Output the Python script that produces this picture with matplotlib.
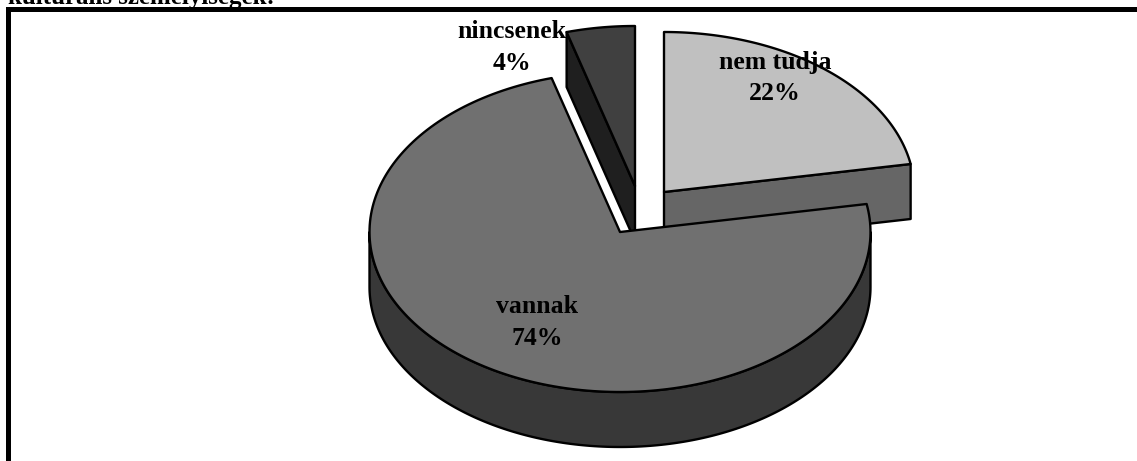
import numpy as np
import matplotlib
matplotlib.use("Agg")
import matplotlib.pyplot as plt
from matplotlib.patches import Polygon

W, H = 1137, 461
categories = ["nem tudja", "vannak", "nincsenek"]
values = [22.2, 73.4, 4.4]
labels = ["22%", "74%", "4%"]
top_colors = ["#c0c0c0", "#707070", "#404040"]
side_colors = ["#666666", "#383838", "#1f1f1f"]
apexes = [(664, 192), (620, 232), (635, 186)]
label_pos = [(775, 78), (537, 322), (512, 48)]
title = "kulturális személyiségek:"

RX, RY, DEPTH = 250.5, 160.0, 55.0

plt.rcParams["font.family"] = ["Liberation Serif", "DejaVu Serif"]
fig = plt.figure(figsize=(W / 100, H / 100), dpi=100)
ax = fig.add_axes([0, 0, 1, 1])
ax.set_xlim(0, W)
ax.set_ylim(H, 0)
ax.axis("off")

ends = np.cumsum(values) / 100 * 360
starts = np.r_[0, ends[:-1]]


def pt(apex, t):
    t = np.radians(t)
    return np.c_[apex[0] + RX * np.sin(t), apex[1] - RY * np.cos(t)]


def arc(apex, a, b):
    return pt(apex, np.linspace(a, b, 200))


def poly(xy, fc, z):
    ax.add_patch(Polygon(xy, closed=True, fc=fc, ec="black", lw=1.7, joinstyle="round", zorder=z))


def wedge(i, z):
    s, e = starts[i], ends[i]
    a = np.array(apexes[i], float)
    down = np.array([0, DEPTH])
    # cut faces turned towards the viewer
    for ang, visible in ((s, s > 180), (e, e < 180)):
        if visible:
            p = pt(a, ang)[0]
            poly([a, p, p + down, a + down], side_colors[i], z)
    # rim visible between 90 and 270 degrees
    lo, hi = max(s, 90), min(e, 270)
    if lo < hi:
        rim = arc(a, lo, hi)
        poly(np.vstack([rim, (rim + down)[::-1]]), side_colors[i], z + 0.1)
    poly(np.vstack([a, arc(a, s, e)]), top_colors[i], z + 0.2)


wedge(0, 2)
wedge(2, 3)
wedge(1, 4)

for name, pct, (x, y) in zip(categories, labels, label_pos):
    ax.text(x, y, f"{name}\n{pct}", ha="center", va="center", fontsize=18.5,
            fontweight="bold", color="black", zorder=10, linespacing=1.5)

ax.plot([7.5, 7.5, W + 5], [H + 5, 9.5, 9.5], color="black", lw=3.6,
        solid_joinstyle="miter", zorder=11)
ax.text(8, 4, title, ha="left", va="baseline", fontsize=18, fontweight="bold", zorder=9)

fig.savefig("out.png", dpi=100)
